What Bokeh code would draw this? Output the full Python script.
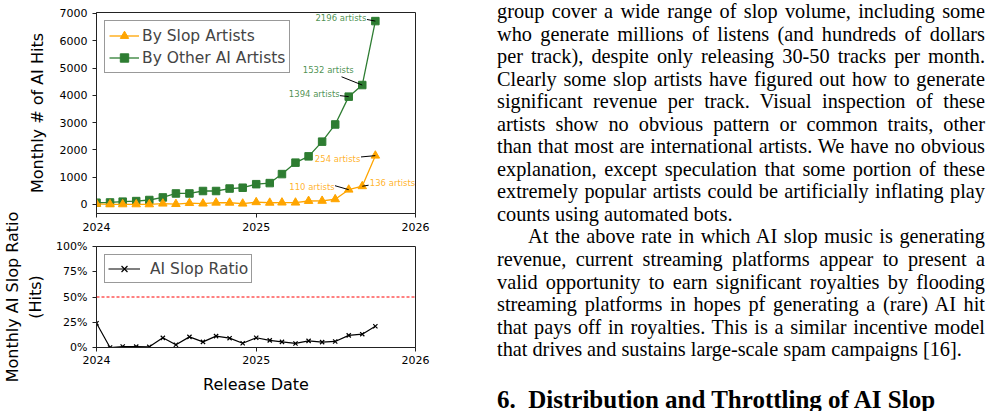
from datetime import datetime
import math
import numpy as np
import pandas as pd

from bokeh.plotting import figure
from bokeh.models import (Range1d, FixedTicker, DatetimeTickFormatter, NumeralTickFormatter,
                          Span, Legend, LegendItem, Div, Spacer, ColumnDataSource)
from bokeh.layouts import row, column
from bokeh.embed import file_html
from bokeh.resources import INLINE
from bokeh.core.properties import value

# ---------------------------------------------------------------- data
months = ["2024-01", "2024-02", "2024-03", "2024-04", "2024-05", "2024-06",
          "2024-07", "2024-08", "2024-09", "2024-10", "2024-11", "2024-12",
          "2025-01", "2025-02", "2025-03", "2025-04", "2025-05", "2025-06",
          "2025-07", "2025-08", "2025-09", "2025-10"]

# monthly number of AI hits
slop_hits = [19, 0, 1, 1, 1, 27, 11, 47, 29, 62, 59, 27,
             79, 59, 66, 64, 124, 129, 187, 539, 665, 1786]
other_ai_hits = [60, 70, 100, 120, 160, 255, 400, 400, 490, 490, 580, 610,
                 740, 780, 1110, 1530, 1760, 2300, 2930, 3950, 4375, 6720]

# number of distinct artists behind the hits in the last three months
note_months = ["2025-08", "2025-09", "2025-10"]
slop_artist_counts = [110, 136, 254]
other_artist_counts = [1394, 1532, 2196]

year_ticks = ["2024-01-01", "2025-01-01", "2026-01-01"]
hit_ticks = [0, 1000, 2000, 3000, 4000, 5000, 6000, 7000]
ratio_ticks = [0, 0.25, 0.5, 0.75, 1.0]

# ---------------------------------------------------------------- styling
ORANGE = "#ffa500"
GREEN = "#2e7d32"
FONT = "DejaVu Sans"
TICK_FS = "11px"
LABEL_FS = "16px"
LEGEND_FS = "15.5px"

dates = [datetime.strptime(m, "%Y-%m") for m in months]
slop = np.array(slop_hits, dtype=float)
other = np.array(other_ai_hits, dtype=float)
ratio = slop / (slop + other)

x_ticks = [pd.Timestamp(t).value // 10**6 for t in year_ticks]
x_range = Range1d(datetime(2024, 1, 1), datetime(2026, 1, 1))
year_fmt = DatetimeTickFormatter(years="%Y", months="%Y", days="%Y", hours="%Y",
                                 minutes="%Y", seconds="%Y", milliseconds="%Y",
                                 microseconds="%Y")


def style_axes(p):
    p.outline_line_color = "#222222"
    p.outline_line_width = 1
    p.xgrid.visible = False
    p.ygrid.visible = False
    p.background_fill_color = "white"
    for ax in (p.xaxis[0], p.yaxis[0]):
        ax.axis_line_color = "#222222"
        ax.major_tick_line_color = "#222222"
        ax.major_tick_out = 4
        ax.major_tick_in = 0
        ax.minor_tick_line_color = None
        ax.major_label_text_font = FONT
        ax.major_label_text_font_size = TICK_FS
        ax.major_label_text_color = "black"
        ax.axis_label_text_font = FONT
        ax.axis_label_text_font_size = LABEL_FS
        ax.axis_label_text_font_style = "normal"
        ax.axis_label_text_color = "black"
    p.xaxis[0].ticker = FixedTicker(ticks=x_ticks)
    p.xaxis[0].formatter = year_fmt


# ---------------------------------------------------------------- top: monthly hits
p1 = figure(width=440, height=238, x_axis_type="datetime", x_range=x_range,
            y_range=Range1d(-335, 7035), output_backend="svg", toolbar_location=None,
            min_border_left=91, min_border_right=25, min_border_top=12,
            min_border_bottom=25, margin=(0, 0, 0, 0))
style_axes(p1)
p1.yaxis[0].ticker = FixedTicker(ticks=hit_ticks)
p1.yaxis[0].axis_label = "Monthly # of AI Hits"
p1.yaxis[0].axis_label_standoff = 10
p1.xaxis[0].major_label_standoff = 5

src = ColumnDataSource(dict(date=dates, slop=slop, other=other, ratio=ratio))
g_line = p1.line("date", "other", source=src, color=GREEN, line_width=1.3)
g_mark = p1.scatter("date", "other", source=src, marker="square", size=7.5,
                    color=GREEN)
o_line = p1.line("date", "slop", source=src, color=ORANGE, line_width=1.3)
o_mark = p1.scatter("date", "slop", source=src, marker="triangle", size=8.5,
                    color=ORANGE)

# artist-count notes: text offset (px), alignment, leader length (px) and angle
idx = [months.index(m) for m in note_months]
note_dates = [dates[i] for i in idx]
notes = [
    # (series values, counts, colour, x_off, y_off, align, leader len, leader angle)
    (other[idx], other_artist_counts, GREEN,
     [-9, -34, -9], [-3, -15, -3], ["right", "center", "right"],
     [8.8, 22.3, 8.5], [math.pi - 0.115, math.pi - 0.38, math.pi - 0.19]),
    (slop[idx], slop_artist_counts, ORANGE,
     [-14, 7.5, -15], [-3, -3, 3], ["right", "left", "right"],
     [14.3, 6.4, 14.4], [math.pi - 0.28, 0.16, math.pi + 0.09]),
]
for vals, counts, col, xo, yo, al, ln, ang in notes:
    ns = ColumnDataSource(dict(x=note_dates, y=list(vals),
                               t=[f"{c} artists" for c in counts],
                               xo=xo, yo=yo, al=al, ln=ln, ang=ang))
    p1.ray("x", "y", length="ln", length_units="screen", angle="ang",
           source=ns, color="black", line_width=1)
    p1.text("x", "y", text="t", x_offset="xo", y_offset="yo", text_align="al",
            text_baseline="middle", text_font=value(FONT), text_font_size="8.5px",
            text_color=col, text_alpha=0.85, source=ns)

leg1 = Legend(items=[LegendItem(label="By Slop Artists", renderers=[o_line, o_mark]),
                     LegendItem(label="By Other AI Artists", renderers=[g_line, g_mark])],
              location="top_left", margin=8, padding=4, spacing=1,
              glyph_width=30, glyph_height=21, label_height=21,
              label_standoff=3, label_text_font=FONT, label_text_font_size=LEGEND_FS,
              border_line_color="#333333", border_line_width=1,
              background_fill_alpha=1)
p1.add_layout(leg1)

# ---------------------------------------------------------------- bottom: slop ratio
p2 = figure(width=440, height=211, x_axis_type="datetime", x_range=x_range,
            y_range=Range1d(0, 1), output_backend="svg", toolbar_location=None,
            min_border_left=91, min_border_right=25, min_border_top=46,
            min_border_bottom=64, margin=(-38, 0, 0, 0))
style_axes(p2)
p2.border_fill_alpha = 0
p2.yaxis[0].ticker = FixedTicker(ticks=ratio_ticks)
p2.yaxis[0].formatter = NumeralTickFormatter(format="0%")
p2.yaxis[0].axis_label = "Monthly AI Slop Ratio\n(Hits)"
p2.yaxis[0].axis_label_standoff = 8
p2.xaxis[0].axis_label = "Release Date"
p2.xaxis[0].major_label_standoff = 4
p2.xaxis[0].axis_label_standoff = 8

p2.add_layout(Span(location=0.5, dimension="width", line_color="red",
                   line_dash="3 2", line_width=1))
r_line = p2.line("date", "ratio", source=src, color="black", line_width=1.2)
r_mark = p2.scatter("date", "ratio", source=src, marker="x", size=6,
                    color="black", line_width=1.2)
leg2 = Legend(items=[LegendItem(label="AI Slop Ratio", renderers=[r_line, r_mark])],
              location="top_left", margin=8, padding=3, spacing=0,
              glyph_width=32, glyph_height=21, label_height=21,
              label_standoff=10, label_text_font=FONT, label_text_font_size=LEGEND_FS,
              border_line_color="#333333", border_line_width=1)
p2.add_layout(leg2)

# ---------------------------------------------------------------- body text
para1 = [
    "group cover a wide range of slop volume, including some",
    "who generate millions of listens (and hundreds of dollars",
    "per track), despite only releasing 30-50 tracks per month.",
    "Clearly some slop artists have figured out how to generate",
    "significant revenue per track. Visual inspection of these",
    "artists show no obvious pattern or common traits, other",
    "than that most are international artists. We have no obvious",
    "explanation, except speculation that some portion of these",
    "extremely popular artists could be artificially inflating play",
    "counts using automated bots.",
]
para2 = [
    "At the above rate in which AI slop music is generating",
    "revenue, current streaming platforms appear to present a",
    "valid opportunity to earn significant royalties by flooding",
    "streaming platforms in hopes pf generating a (rare) AI hit",
    "that pays off in royalties. This is a similar incentive model",
    "that drives and sustains large-scale spam campaigns [16].",
]
heading = "6.&ensp;Distribution and Throttling of AI Slop"

JUST = "text-align:justify;text-align-last:justify;"


def para_html(lines, indent):
    out = []
    for i, ln in enumerate(lines):
        st = JUST if i < len(lines) - 1 else "text-align:left;"
        if i == 0 and indent:
            st += f"text-indent:{indent}px;"
        out.append(f'<div style="white-space:nowrap;{st}">{ln}</div>')
    return "".join(out)


html = (
    '<div style="font-family:\'Liberation Serif\',\'Times New Roman\',serif;'
    'font-size:20.3px;line-height:22.55px;color:#000;width:488px;padding-top:0px;">'
    + para_html(para1, 0) + para_html(para2, 31)
    + '<div style="font-weight:bold;font-size:25px;line-height:29px;margin-top:24px;'
      'text-align:left;white-space:nowrap;">' + heading + '</div></div>'
)
text_div = Div(text=html, width=488, height=411, margin=(0, 0, 0, 0))

layout = row(column(p1, p2, margin=(0, 0, 0, 0)), Spacer(width=57, height=411),
             text_div, margin=(0, 0, 0, 0))

open("out.html", "w").write(file_html(layout, INLINE))
